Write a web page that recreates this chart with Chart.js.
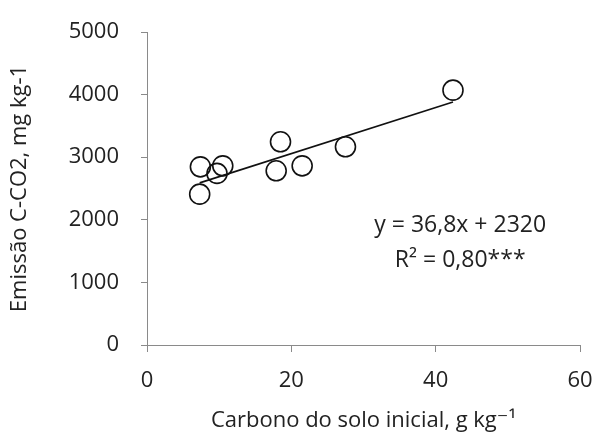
<!DOCTYPE html>
<html>
<head>
<meta charset="utf-8">
<script src="https://cdn.jsdelivr.net/npm/chart.js@4"></script>
<style>
    html, body { margin: 0; padding: 0; background: #fff; }
    #wrap { width: 597px; height: 436px; }
</style>
</head>
<body>
<div id="wrap"><canvas id="scatterChart"></canvas></div>
<script>
// soil carbon (g/kg) vs CO2-C emission (mg/kg)
const carbonSolo = [7.4, 10.5, 9.7, 7.3, 18.5, 17.9, 21.5, 27.5, 42.4];
const emissao = [2846, 2862, 2741, 2410, 3246, 2783, 2862, 3166, 4071];

// trend line ends
const trendX = [7.3, 42.4];
const trendY = [2590, 3880];

const xTicks = [0, 20, 40, 60];
const yTicks = [0, 1000, 2000, 3000, 4000, 5000];

const eqLines = ['y = 36,8x + 2320', 'R² = 0,80***'];

const fontFamily = "'Open Sans', 'DejaVu Sans', sans-serif";
const textColor = '#222';
const axisColor = '#8a8a8a';

// draws the equation text inside the plot
const equationLabel = {
    id: 'equationLabel',
    afterDatasetsDraw(chart) {
        const { ctx, scales } = chart;
        ctx.save();
        ctx.fillStyle = textColor;
        ctx.font = '23px ' + fontFamily;
        ctx.textAlign = 'center';
        ctx.textBaseline = 'middle';
        const cx = scales.x.getPixelForValue(43.4);
        ctx.fillText(eqLines[0], cx, scales.y.getPixelForValue(1916));
        ctx.fillText(eqLines[1], cx, scales.y.getPixelForValue(1357));
        ctx.restore();
    }
};

const ctx = document.getElementById('scatterChart').getContext('2d');
new Chart(ctx, {
    type: 'scatter',
    data: {
        datasets: [
            {
                label: 'dados',
                data: carbonSolo.map((x, i) => ({ x: x, y: emissao[i] })),
                pointRadius: 10,
                pointBorderWidth: 1.6,
                pointBorderColor: '#111',
                pointBackgroundColor: 'rgba(0,0,0,0)'
            },
            {
                label: 'tendencia',
                type: 'line',
                data: trendX.map((x, i) => ({ x: x, y: trendY[i] })),
                borderColor: '#111',
                borderWidth: 1.6,
                pointRadius: 0,
                fill: false
            }
        ]
    },
    options: {
        responsive: true,
        maintainAspectRatio: false,
        animation: false,
        layout: { padding: { top: 32, right: 17, left: 0, bottom: 0 } },
        scales: {
            x: {
                type: 'linear',
                min: 0,
                max: 60,
                afterBuildTicks: axis => { axis.ticks = xTicks.map(v => ({ value: v })); },
                afterFit: axis => {
                    axis.height = 91;
                    axis.paddingLeft = 0;
                    axis.paddingRight = 0;
                },
                grid: { display: true, drawOnChartArea: false, drawTicks: true, tickLength: 7, color: axisColor },
                border: { display: true, color: axisColor, width: 1 },
                ticks: {
                    color: textColor,
                    font: { family: fontFamily, size: 22 },
                    padding: 16,
                    maxRotation: 0,
                    callback: v => String(v)
                },
                title: {
                    display: true,
                    text: 'Carbono do solo inicial, g kg⁻¹',
                    color: textColor,
                    font: { family: fontFamily, size: 22 },
                    padding: { top: 4, bottom: 2 }
                }
            },
            y: {
                type: 'linear',
                min: 0,
                max: 5000,
                afterBuildTicks: axis => { axis.ticks = yTicks.map(v => ({ value: v })); },
                afterFit: axis => {
                    axis.width = 147;
                    axis.paddingTop = 0;
                    axis.paddingBottom = 0;
                },
                grid: { display: true, drawOnChartArea: false, drawTicks: true, tickLength: 6, color: axisColor },
                border: { display: true, color: axisColor, width: 1 },
                ticks: {
                    color: textColor,
                    font: { family: fontFamily, size: 22 },
                    padding: 22,
                    callback: v => String(v)
                },
                title: {
                    display: true,
                    text: 'Emissão C-CO2, mg kg-1',
                    color: textColor,
                    font: { family: fontFamily, size: 22 },
                    padding: { top: 7, bottom: 0 }
                }
            }
        },
        plugins: {
            legend: { display: false },
            tooltip: { enabled: false }
        }
    },
    plugins: [equationLabel]
});
</script>
</body>
</html>
